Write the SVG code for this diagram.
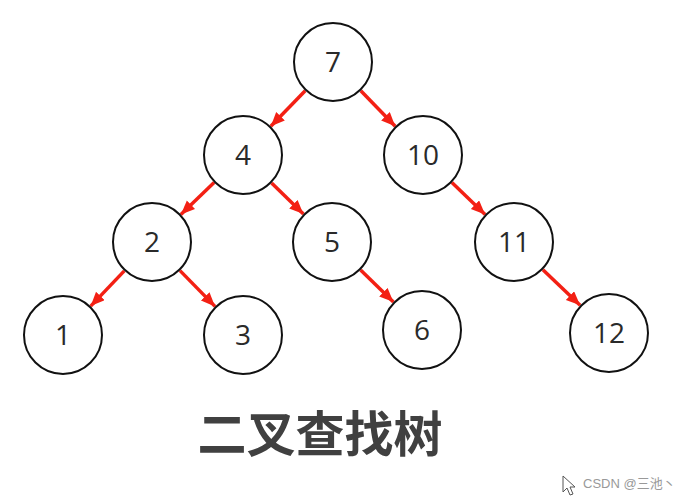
<svg xmlns="http://www.w3.org/2000/svg" width="692" height="498" viewBox="0 0 692 498">
<style>
.n circle{fill:#fff;stroke:#111;stroke-width:2}
.n text{font-family:"Open Sans","DejaVu Sans",sans-serif;font-size:28px;fill:#2a2a2a;text-anchor:middle}
.e line{stroke:#f32014;stroke-width:3.5;marker-end:url(#ah)}
</style>
<defs>
<marker id="ah" markerUnits="userSpaceOnUse" markerWidth="15" markerHeight="13" refX="14" refY="6" orient="auto">
<path d="M0,0 L14,6 L0,12 z" fill="#f32014"/>
</marker>
</defs>
<rect width="692" height="498" fill="#fff"/>
<g id="connectors" class="e">
<line x1="305.2" y1="90.7" x2="270.8" y2="126.3"/>
<line x1="360.8" y1="90.7" x2="395.2" y2="126.3"/>
<line x1="214.1" y1="182.6" x2="180.9" y2="214.4"/>
<line x1="271.6" y1="183" x2="303.4" y2="214"/>
<line x1="124.3" y1="270.9" x2="90.7" y2="306.1"/>
<line x1="180" y1="270.6" x2="215" y2="306.4"/>
<line x1="360.6" y1="270" x2="393.4" y2="302"/>
<line x1="451.9" y1="182.6" x2="485.1" y2="214.4"/>
<line x1="542.9" y1="269.7" x2="580.1" y2="305.3"/>
</g>
<g id="n7" class="n"><circle cx="333" cy="62" r="39"/><text x="333" y="72">7</text></g>
<g id="n4" class="n"><circle cx="243" cy="155" r="39"/><text x="243" y="165">4</text></g>
<g id="n10" class="n"><circle cx="423" cy="155" r="39"/><text x="423" y="165">10</text></g>
<g id="n2" class="n"><circle cx="152" cy="242" r="39"/><text x="152" y="252">2</text></g>
<g id="n5" class="n"><circle cx="332" cy="242" r="39"/><text x="332" y="252">5</text></g>
<g id="n11" class="n"><circle cx="514" cy="242" r="39"/><text x="514" y="252">11</text></g>
<g id="n1" class="n"><circle cx="63" cy="335" r="39"/><text x="63" y="345">1</text></g>
<g id="n3" class="n"><circle cx="243" cy="335" r="39"/><text x="243" y="345">3</text></g>
<g id="n6" class="n"><circle cx="422" cy="330" r="39"/><text x="422" y="340">6</text></g>
<g id="n12" class="n"><circle cx="609" cy="333" r="39"/><text x="609" y="343">12</text></g>
<text x="320" y="452" font-family="'Noto Sans CJK SC',sans-serif" font-size="49" font-weight="bold" fill="#404040" text-anchor="middle">二叉查找树</text>
<path d="M563,476 L563,492 L567,488 L570,495 L573,494 L570,487 L575,487 Z" fill="#fff" stroke="#555" stroke-width="1"/>
<text x="583" y="488" font-family="'Liberation Sans','Noto Sans CJK SC',sans-serif" font-size="13" fill="#999">CSDN @三池丶</text>
</svg>
